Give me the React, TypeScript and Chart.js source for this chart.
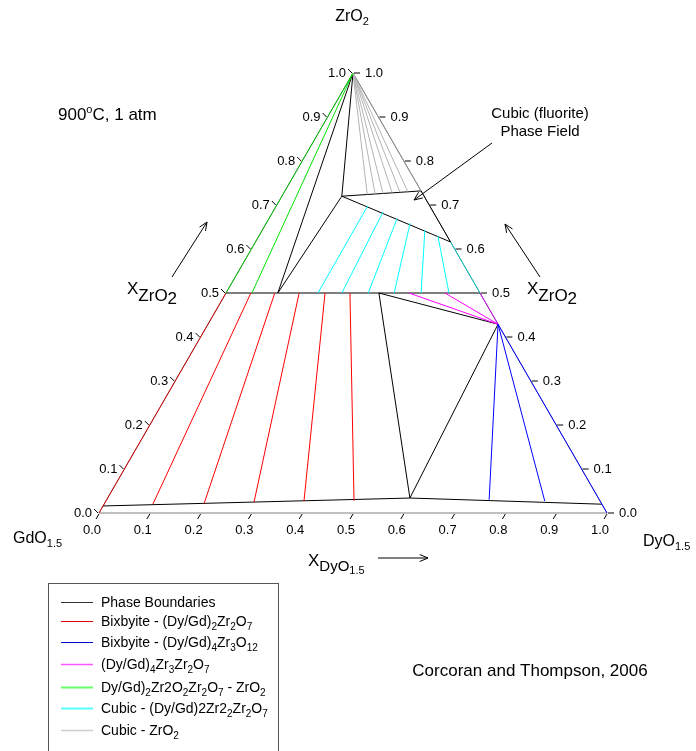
import React, { useEffect, useRef } from "react";
import { Chart, registerables } from "chart.js";

Chart.register(...registerables);

const FONT = '"Liberation Sans", Arial, Helvetica, sans-serif';

// Ternary points are [DyO1.5 fraction, ZrO2 fraction]
const apexPt = [0, 1];
const bottomBoundary = [[0, 0.016], [0.595, 0.034], [0.98, 0.02]];
const pyroLineLeft = [0, 0.5];
const pyroLineRight = [0.5, 0.5];
const pyroLeft = [0.102, 0.5];
const pyroRight = [0.301, 0.5];
const cubicCorner = [0.118, 0.72];
const cubicTopEdge = [0.268, 0.732];
const cubicBottomEdge = [0.384, 0.616];
const deltaPt = [0.571, 0.429];
const threePhaseBottom = [0.595, 0.034];

// Bixbyite - pyrochlore tie lines (red)
const redTopDy = [0.049, 0.096, 0.144, 0.195, 0.244]; // at ZrO2 = 0.5
const redBottomDy = [0.096, 0.196, 0.293, 0.39, 0.488];
const redBottomZr = [0.02, 0.022, 0.024, 0.027, 0.028];

// Bixbyite - delta tie lines (blue)
const blueBottomDy = [0.753, 0.864];
const blueBottomZr = [0.03, 0.027];

// delta - pyrochlore tie lines (magenta)
const magentaTopDy = [0.36, 0.431]; // at ZrO2 = 0.5

// pyrochlore - ZrO2 tie lines (green)
const greenBottomDy = [0.051]; // at ZrO2 = 0.5

// cubic - pyrochlore tie lines (cyan)
const cyanTopDy = [0.18, 0.217, 0.252, 0.283, 0.32, 0.352];
const cyanTopZr = [0.698, 0.684, 0.67, 0.659, 0.643, 0.63];
const cyanBottomDy = [0.181, 0.228, 0.28, 0.331, 0.384, 0.439]; // at ZrO2 = 0.5

// cubic - ZrO2 tie lines (gray)
const grayDy = [0.166, 0.181, 0.196, 0.213, 0.228, 0.243];
const grayZr = [0.724, 0.725, 0.726, 0.728, 0.729, 0.73];

const axisTicks = [0, 0.1, 0.2, 0.3, 0.4, 0.5, 0.6, 0.7, 0.8, 0.9, 1.0];
const axisTickLabels = ["0.0", "0.1", "0.2", "0.3", "0.4", "0.5", "0.6", "0.7", "0.8", "0.9", "1.0"];

const C_BLACK = "#000000";
const C_RED = "#ff0000";
const C_BLUE = "#0000ff";
const C_MAGENTA = "#ff00ff";
const C_GREEN = "#00e000";
const C_CYAN = "#00ffff";
const C_GRAY = "#b4b4b4";

const SQ = Math.sqrt(3) / 2;
const toXY = (p: number[]) => ({ x: p[0] + p[1] / 2, y: p[1] * SQ });

type Seg = [string, number, number]; // text, size, dy

function drawRich(ctx: CanvasRenderingContext2D, segs: Seg[], x: number, y: number, align: string) {
  let w = 0;
  for (const [t, s] of segs) {
    ctx.font = `${s}px ${FONT}`;
    w += ctx.measureText(t).width;
  }
  let cx = align === "center" ? x - w / 2 : align === "right" ? x - w : x;
  ctx.textAlign = "left";
  ctx.textBaseline = "alphabetic";
  for (const [t, s, dy] of segs) {
    ctx.font = `${s}px ${FONT}`;
    ctx.fillText(t, cx, y + dy);
    cx += ctx.measureText(t).width;
  }
}

function arrow(ctx: CanvasRenderingContext2D, x1: number, y1: number, x2: number, y2: number) {
  const a = Math.atan2(y2 - y1, x2 - x1);
  const L = 9;
  const s = 0.4;
  ctx.beginPath();
  ctx.moveTo(x1, y1);
  ctx.lineTo(x2, y2);
  ctx.moveTo(x2 - L * Math.cos(a - s), y2 - L * Math.sin(a - s));
  ctx.lineTo(x2, y2);
  ctx.lineTo(x2 - L * Math.cos(a + s), y2 - L * Math.sin(a + s));
  ctx.stroke();
}

const legendItems: { color: string; width: number; segs: Seg[] }[] = [
  { color: "#333333", width: 1, segs: [["Phase Boundaries", 14, 0]] },
  { color: "#e00000", width: 1, segs: [["Bixbyite - (Dy/Gd)", 14, 0], ["2", 10, 4], ["Zr", 14, 0], ["2", 10, 4], ["O", 14, 0], ["7", 10, 4]] },
  { color: "#0000cc", width: 1, segs: [["Bixbyite - (Dy/Gd)", 14, 0], ["4", 10, 4], ["Zr", 14, 0], ["3", 10, 4], ["O", 14, 0], ["12", 10, 4]] },
  { color: "#ff55ff", width: 1.5, segs: [["(Dy/Gd)", 14, 0], ["4", 10, 4], ["Zr", 14, 0], ["3", 10, 4], ["Zr", 14, 0], ["2", 10, 4], ["O", 14, 0], ["7", 10, 4]] },
  { color: "#66ff66", width: 2, segs: [["Dy/Gd)", 14, 0], ["2", 10, 4], ["Zr2O", 14, 0], ["2", 10, 4], ["Zr", 14, 0], ["2", 10, 4], ["O", 14, 0], ["7", 10, 4], [" - ZrO", 14, 0], ["2", 10, 4]] },
  { color: "#55ffff", width: 2, segs: [["Cubic - (Dy/Gd)2Zr2", 14, 0], ["2", 10, 4], ["Zr", 14, 0], ["2", 10, 4], ["O", 14, 0], ["7", 10, 4]] },
  { color: "#cccccc", width: 1.5, segs: [["Cubic - ZrO", 14, 0], ["2", 10, 4]] },
];
const legendRowsY = [602, 621, 642, 664, 687, 708, 730];

function seg(a: number[], b: number[], color: string, width = 1) {
  return {
    data: [toXY(a), toXY(b)],
    showLine: true,
    borderColor: color,
    backgroundColor: color,
    borderWidth: width,
    pointRadius: 0,
    clip: false as any,
  };
}

export default function App() {
  const ref = useRef<HTMLCanvasElement | null>(null);
  useEffect(() => {
    if (!ref.current) return;
    const datasets: any[] = [];
    // colored tie lines
    redTopDy.forEach((d, i) => datasets.push(seg([d, 0.5], [redBottomDy[i], redBottomZr[i]], C_RED)));
    blueBottomDy.forEach((d, i) => datasets.push(seg(deltaPt, [d, blueBottomZr[i]], C_BLUE)));
    magentaTopDy.forEach((d) => datasets.push(seg(deltaPt, [d, 0.5], C_MAGENTA)));
    greenBottomDy.forEach((d) => datasets.push(seg([d, 0.5], apexPt, C_GREEN)));
    cyanTopDy.forEach((d, i) => datasets.push(seg([d, cyanTopZr[i]], [cyanBottomDy[i], 0.5], C_CYAN)));
    grayDy.forEach((d, i) => datasets.push(seg(apexPt, [d, grayZr[i]], C_GRAY)));
    // colored edges
    datasets.push(seg([0, 0.0], pyroLineLeft, "#d00000"));
    datasets.push(seg(pyroLineLeft, apexPt, "#00c000"));
    datasets.push(seg(pyroLineRight, cubicBottomEdge, "#00c8c8"));
    datasets.push(seg(deltaPt, pyroLineRight, "#c000e0"));
    datasets.push(seg([1, 0], deltaPt, C_BLUE));
    datasets.push(seg(cubicTopEdge, apexPt, "#909090"));
    // phase boundaries
    datasets.push({ ...seg(bottomBoundary[0], bottomBoundary[1], C_BLACK), data: bottomBoundary.map(toXY) });
    datasets.push(seg(pyroLineLeft, pyroLineRight, C_BLACK));
    datasets.push(seg(apexPt, pyroLeft, C_BLACK));
    datasets.push(seg(apexPt, cubicCorner, C_BLACK));
    datasets.push(seg(pyroLeft, cubicCorner, C_BLACK));
    datasets.push(seg(cubicCorner, cubicTopEdge, C_BLACK));
    datasets.push(seg(cubicCorner, cubicBottomEdge, C_BLACK));
    datasets.push(seg(cubicBottomEdge, cubicTopEdge, C_BLACK));
    datasets.push(seg(pyroRight, deltaPt, C_BLACK));
    datasets.push(seg(pyroRight, threePhaseBottom, C_BLACK));
    datasets.push(seg(deltaPt, threePhaseBottom, C_BLACK));

    const decor = {
      id: "ternaryDecor",
      beforeDatasetsDraw(chart: any) {
        const ctx: CanvasRenderingContext2D = chart.ctx;
        const xs = chart.scales.x;
        const ys = chart.scales.y;
        const P = (p: number[]) => {
          const q = toXY(p);
          return [xs.getPixelForValue(q.x), ys.getPixelForValue(q.y)];
        };
        ctx.save();
        ctx.strokeStyle = "#808080";
        ctx.lineWidth = 1;
        const a = P([0, 0]), b = P([1, 0]), c = P([0, 1]);
        ctx.beginPath();
        ctx.moveTo(a[0], a[1]);
        ctx.lineTo(b[0], b[1]);
        ctx.lineTo(c[0], c[1]);
        ctx.closePath();
        ctx.stroke();
        ctx.restore();
      },
      afterDraw(chart: any) {
        const ctx: CanvasRenderingContext2D = chart.ctx;
        const xs = chart.scales.x;
        const ys = chart.scales.y;
        const P = (p: number[]) => {
          const q = toXY(p);
          return [xs.getPixelForValue(q.x), ys.getPixelForValue(q.y)];
        };
        ctx.save();
        ctx.fillStyle = "#000";
        ctx.strokeStyle = "#000";
        ctx.lineWidth = 1;
        ctx.font = `13px ${FONT}`;
        // axis ticks & labels
        axisTicks.forEach((t, i) => {
          const lab = axisTickLabels[i];
          // left edge (ZrO2)
          const L = P([0, t]);
          ctx.beginPath();
          ctx.moveTo(L[0] - 1, L[1]);
          ctx.lineTo(L[0] - 5, L[1] - 4);
          ctx.stroke();
          ctx.textAlign = "right";
          ctx.textBaseline = "middle";
          ctx.fillText(lab, L[0] - 7, L[1]);
          // right edge (ZrO2)
          const R = P([1 - t, t]);
          ctx.beginPath();
          ctx.moveTo(R[0] + 1, R[1]);
          ctx.lineTo(R[0] + 7, R[1]);
          ctx.stroke();
          ctx.textAlign = "left";
          ctx.fillText(lab, R[0] + 12, R[1]);
          // bottom edge (DyO1.5)
          const B = P([t, 0]);
          ctx.beginPath();
          ctx.moveTo(B[0], B[1] + 1);
          ctx.lineTo(B[0] - 3, B[1] + 6);
          ctx.stroke();
          ctx.textAlign = "center";
          ctx.fillText(lab, B[0] - 7, B[1] + 17);
        });

        ctx.fillStyle = "#000";
        // vertex labels
        drawRich(ctx, [["ZrO", 16, 0], ["2", 11, 4]], 352, 21, "center");
        drawRich(ctx, [["GdO", 16, 0], ["1.5", 11, 4]], 13, 543, "left");
        drawRich(ctx, [["DyO", 16, 0], ["1.5", 11, 4]], 643, 546, "left");
        // axis titles
        drawRich(ctx, [["X", 17, 0], ["ZrO", 17, 7], ["2", 17, 10]], 127, 294, "left");
        drawRich(ctx, [["X", 17, 0], ["ZrO", 17, 7], ["2", 17, 10]], 527, 294, "left");
        drawRich(ctx, [["X", 17, 0], ["DyO", 15, 5], ["1.5", 11, 8]], 308, 566, "left");
        // annotations
        drawRich(ctx, [["900", 17, 0], ["o", 11, -7], ["C, 1 atm", 17, 0]], 58, 120, "left");
        drawRich(ctx, [["Cubic (fluorite)", 15, 0]], 540, 118, "center");
        drawRich(ctx, [["Phase Field", 15, 0]], 540, 136, "center");
        drawRich(ctx, [["Corcoran and Thompson, 2006", 17, 0]], 530, 676, "center");
        // arrows
        arrow(ctx, 172, 277, 207, 222);
        arrow(ctx, 540, 277, 505, 224);
        arrow(ctx, 378, 558, 428, 558);
        arrow(ctx, 492, 143, 414, 200);

        // legend box
        ctx.strokeStyle = "#555";
        ctx.strokeRect(48.5, 583.5, 230, 190);
        legendItems.forEach((it, i) => {
          const y = legendRowsY[i];
          ctx.strokeStyle = it.color;
          ctx.lineWidth = it.width;
          ctx.beginPath();
          ctx.moveTo(61, y + 0.5);
          ctx.lineTo(93, y + 0.5);
          ctx.stroke();
          ctx.fillStyle = "#000";
          drawRich(ctx, it.segs, 101, y + 5, "left");
        });
        ctx.restore();
      },
    };

    const chart = new Chart(ref.current, {
      type: "scatter",
      data: { datasets },
      options: {
        animation: false,
        responsive: false,
        devicePixelRatio: 1,
        layout: { padding: { left: 99, right: 89, top: 73, bottom: 238 } },
        scales: {
          x: { type: "linear", min: 0, max: 1, display: false },
          y: { type: "linear", min: 0, max: SQ, display: false },
        },
        plugins: { legend: { display: false }, tooltip: { enabled: false } },
        events: [],
      },
      plugins: [decor],
    });
    return () => chart.destroy();
  }, []);
  return (
    <canvas
      ref={ref}
      width={696}
      height={751}
      style={{ position: "absolute", left: 0, top: 0, width: 696, height: 751, background: "#fff" }}
    />
  );
}
